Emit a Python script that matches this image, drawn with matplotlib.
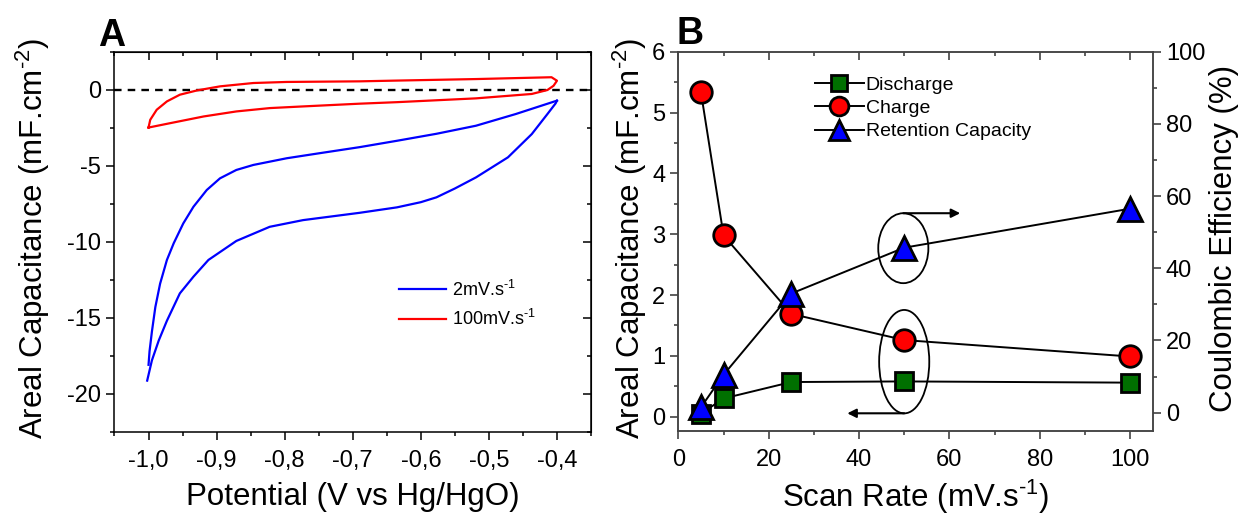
import matplotlib
matplotlib.use("Agg")
import matplotlib.pyplot as plt
from matplotlib.patches import Ellipse
from matplotlib.ticker import MultipleLocator, FixedLocator, FixedFormatter
from matplotlib.lines import Line2D

plt.rcParams['font.family'] = ['Liberation Sans', 'DejaVu Sans']
plt.rcParams['mathtext.fontset'] = 'custom'
plt.rcParams['mathtext.rm'] = 'Liberation Sans'
plt.rcParams['mathtext.it'] = 'Liberation Sans:italic'
plt.rcParams['mathtext.default'] = 'regular'
plt.rcParams['axes.unicode_minus'] = False

# ---------------- Panel A data (CV curves) ----------------
blue_upper_E = [-0.400, -0.4605, -0.519, -0.577, -0.635, -0.690, -0.749, -0.797, -0.846,
                -0.871, -0.895, -0.9145, -0.934, -0.949, -0.963, -0.973, -0.983, -0.990,
                -0.995, -0.9985, -1.000]
blue_upper_C = [-0.72, -1.60, -2.37, -2.90, -3.36, -3.78, -4.18, -4.51, -4.95,
                -5.28, -5.83, -6.60, -7.70, -8.80, -10.10, -11.20, -12.76, -14.30,
                -15.90, -17.20, -18.10]
blue_lower_E = [-1.002, -0.995, -0.985, -0.973, -0.954, -0.934, -0.912, -0.871, -0.822,
                -0.773, -0.690, -0.635, -0.600, -0.577, -0.550, -0.519, -0.472, -0.437,
                -0.414, -0.402, -0.400]
blue_lower_C = [-19.14, -17.80, -16.50, -15.20, -13.40, -12.30, -11.20, -9.95, -9.02,
                -8.58, -8.10, -7.74, -7.40, -7.08, -6.50, -5.77, -4.45, -2.92,
                -1.60, -0.90, -0.72]

red_upper_E = [-1.000, -0.9975, -0.988, -0.973, -0.954, -0.929, -0.895, -0.846, -0.797,
               -0.690, -0.635, -0.519, -0.408, -0.400]
red_upper_C = [-2.49, -1.98, -1.32, -0.77, -0.33, -0.05, 0.22, 0.44, 0.51,
               0.55, 0.60, 0.70, 0.82, 0.59]
red_lower_E = [-0.400, -0.405, -0.414, -0.437, -0.519, -0.635, -0.690, -0.773, -0.822,
               -0.871, -0.919, -0.968, -1.000]
red_lower_C = [0.59, 0.26, -0.02, -0.28, -0.57, -0.82, -0.92, -1.10, -1.21,
               -1.43, -1.76, -2.20, -2.49]

A_xticks = [-1.0, -0.9, -0.8, -0.7, -0.6, -0.5, -0.4]
A_xticklabels = ["-1,0", "-0,9", "-0,8", "-0,7", "-0,6", "-0,5", "-0,4"]
A_yticks = [0, -5, -10, -15, -20]
A_labels = [r"2mV.s$^{\text{-1}}$", r"100mV.s$^{\text{-1}}$"]

# ---------------- Panel B data ----------------
scan_rate = [5, 10, 25, 50, 100]
discharge = [0.05, 0.30, 0.57, 0.58, 0.56]
charge = [5.33, 2.98, 1.69, 1.26, 0.99]
retention = [1.5, 10.5, 33.0, 45.7, 56.5]
B_labels = ["Discharge", "Charge", "Retention Capacity"]

W, H = 1242, 519
fig = plt.figure(figsize=(W / 100, H / 100), dpi=100)

def frac_box(l, r, t, b):
    return [l / W, 1 - b / H, (r - l) / W, (b - t) / H]

TICK_FS = 17
LABEL_FS = 22.5
CAP_LABEL = r"Areal Capacitance (mF.cm$^{\text{-2}}$)"

# ================= Panel A =================
axA = fig.add_axes(frac_box(114.5, 591, 51.7, 431.7))
lw = 1.6
axA.plot(blue_upper_E, blue_upper_C, color='#0000ff', lw=lw, label=A_labels[0])
axA.plot(blue_lower_E, blue_lower_C, color='#0000ff', lw=lw)
axA.plot(red_upper_E + red_lower_E, red_upper_C + red_lower_C, color='#ff0000', lw=lw,
         label=A_labels[1])
axA.axhline(0, color='black', lw=1.7, ls=(0, (3.2, 2.6)), zorder=1)
axA.set_xlim(-1.05, -0.35)
axA.set_ylim(-22.5, 2.5)
axA.xaxis.set_major_locator(FixedLocator(A_xticks))
axA.xaxis.set_major_formatter(FixedFormatter(A_xticklabels))
axA.xaxis.set_minor_locator(MultipleLocator(0.05))
axA.yaxis.set_major_locator(FixedLocator(A_yticks))
axA.yaxis.set_minor_locator(MultipleLocator(2.5))
axA.tick_params(axis='both', which='both', direction='out', labelsize=TICK_FS, width=1.1)
axA.tick_params(which='major', length=6)
axA.tick_params(which='minor', length=3)
axA.tick_params(axis='x', pad=7)
secx = axA.secondary_xaxis('top')
secx.xaxis.set_major_locator(FixedLocator(A_xticks))
secx.xaxis.set_minor_locator(MultipleLocator(0.05))
secx.tick_params(which='both', direction='in', labeltop=False, width=1.1)
secx.tick_params(which='major', length=6)
secx.tick_params(which='minor', length=3)
secy = axA.secondary_yaxis('right')
secy.yaxis.set_major_locator(FixedLocator(A_yticks))
secy.yaxis.set_minor_locator(MultipleLocator(2.5))
secy.tick_params(which='both', direction='in', labelright=False, width=1.1)
secy.tick_params(which='major', length=6)
secy.tick_params(which='minor', length=3)
for sp in axA.spines.values():
    sp.set_linewidth(1.1)
axA.legend(loc='upper left', bbox_to_anchor=(0.598, 0.40), frameon=False,
           fontsize=13, handlelength=2.6, handletextpad=0.3, labelspacing=0.5,
           borderpad=0, borderaxespad=0)

fig.text(33 / W, 1 - 238 / H, CAP_LABEL, rotation=90,
         ha='center', va='center', fontsize=LABEL_FS)
fig.text(352.8 / W, 1 - 497 / H, "Potential (V vs Hg/HgO)", ha='center', va='center',
         fontsize=LABEL_FS)
fig.text(112 / W, 1 - 36 / H, "A", ha='center', va='center', fontsize=27,
         fontweight='bold')

# ================= Panel B =================
axB = fig.add_axes(frac_box(678.4, 1152.6, 51.7, 430.7))
axB2 = axB.twinx()
edge = dict(markeredgecolor='black', markeredgewidth=2.0)
axB.plot(scan_rate, discharge, '-', color='black', lw=1.4, marker='s', markersize=13.5,
         markerfacecolor='#007000', zorder=3, **edge)
axB.plot(scan_rate, charge, '-', color='black', lw=1.4, marker='o', markersize=15.5,
         markerfacecolor='#ff0000', zorder=3, **edge)
axB2.plot(scan_rate, retention, '-', color='black', lw=1.4, marker='^', markersize=17,
          markerfacecolor='#0000ff', zorder=3, **edge)
axB.set_xlim(0, 105)
axB.set_ylim(-0.23, 6)
axB2.set_ylim(-5, 100)
axB.xaxis.set_major_locator(MultipleLocator(20))
axB.xaxis.set_minor_locator(MultipleLocator(10))
axB.yaxis.set_major_locator(MultipleLocator(1))
axB.yaxis.set_minor_locator(MultipleLocator(0.5))
axB2.yaxis.set_major_locator(FixedLocator([0, 20, 40, 60, 80, 100]))
axB2.yaxis.set_minor_locator(MultipleLocator(10))
for a in (axB, axB2):
    a.tick_params(axis='both', which='both', direction='out', labelsize=TICK_FS, width=1.1,
                  color='#333333')
    a.tick_params(which='major', length=6)
    a.tick_params(which='minor', length=3)
    for sp in a.spines.values():
        sp.set_linewidth(1.1)
        sp.set_color('#444444')
axB.tick_params(axis='x', pad=7)
secxB = axB.secondary_xaxis('top')
secxB.xaxis.set_major_locator(MultipleLocator(20))
secxB.xaxis.set_minor_locator(MultipleLocator(10))
secxB.tick_params(which='both', direction='in', labeltop=False, width=1.1, color='#333333')
secxB.tick_params(which='major', length=6)
secxB.tick_params(which='minor', length=3)
secxB.spines['top'].set_visible(False)

# annotations: ellipses and arrows
axB2.add_patch(Ellipse((49.8, 2.77), 11.1, 1.15, transform=axB.transData, fill=False,
                       edgecolor='black', lw=1.3))
axB2.add_patch(Ellipse((50.0, 0.905), 11.1, 1.70, transform=axB.transData, fill=False,
                       edgecolor='black', lw=1.3))
axB.annotate("", xy=(62.4, 3.345), xytext=(49.8, 3.345),
             arrowprops=dict(arrowstyle='-|>', color='black', lw=1.5, mutation_scale=13,
                             shrinkA=0, shrinkB=0))
axB.annotate("", xy=(37.4, 0.056), xytext=(50.0, 0.056),
             arrowprops=dict(arrowstyle='-|>', color='black', lw=1.5, mutation_scale=13,
                             shrinkA=0, shrinkB=0))

handles = [
    Line2D([], [], color='black', lw=1.4, marker='s', markersize=12, markerfacecolor='#007000', **edge),
    Line2D([], [], color='black', lw=1.4, marker='o', markersize=13.5, markerfacecolor='#ff0000', **edge),
    Line2D([], [], color='black', lw=1.4, marker='^', markersize=14.5, markerfacecolor='#0000ff', **edge),
]
axB2.legend(handles, B_labels, loc='upper left', bbox_to_anchor=(0.288, 0.935), frameon=False,
            fontsize=14, handlelength=2.5, handletextpad=0.1, labelspacing=0.29,
            borderpad=0, borderaxespad=0)

fig.text(630 / W, 1 - 238 / H, CAP_LABEL, rotation=90,
         ha='center', va='center', fontsize=LABEL_FS)
fig.text(1224 / W, 1 - 238 / H, "Coulombic Efficiency (%)", rotation=90,
         ha='center', va='center', fontsize=LABEL_FS)
fig.text(915.5 / W, 1 - 497 / H, r"Scan Rate (mV.s$^{\text{-1}}$)", ha='center', va='center',
         fontsize=LABEL_FS)
fig.text(690 / W, 1 - 34 / H, "B", ha='center', va='center', fontsize=27,
         fontweight='bold')

fig.savefig("out.png", dpi=100)
